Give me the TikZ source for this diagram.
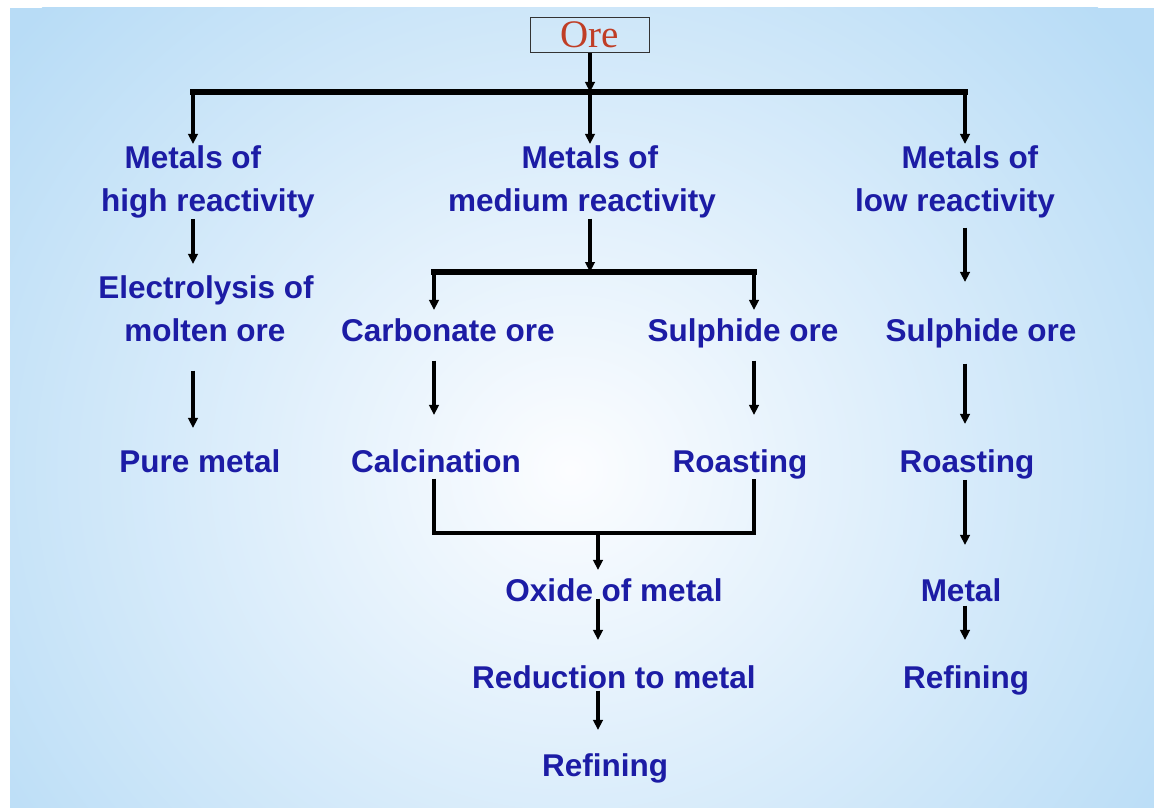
\documentclass[tikz,border=0pt]{standalone}
\usepackage{fontspec}
\setmainfont{Liberation Sans}
\newfontfamily\oreserif{Liberation Serif}
\usetikzlibrary{arrows.meta,calc}
\definecolor{txtblue}{RGB}{28,28,165}
\definecolor{orered}{RGB}{192,62,38}
\definecolor{bgblue}{RGB}{184,220,246}
\definecolor{bgwhite}{RGB}{252,253,255}
\begin{document}
\begin{tikzpicture}[x=1pt,y=-1pt,
  lbl/.style={anchor=base, inner sep=0pt, text=txtblue, font=\fontsize{31.5}{36}\selectfont\bfseries},
  arr/.style={line width=3.2pt, -{Triangle[length=10pt,width=9.5pt]}},
  bus/.style={line width=5.2pt, line cap=rect},
  bracket/.style={line width=4.2pt, line join=miter},
]
\useasboundingbox (0,0) rectangle (1154,808);
\fill[white] (0,0) rectangle (1154,808);
\begin{scope}
  \clip (10,8) rectangle (1154,808);
  \fill[bgblue] (10,8) rectangle (1154,808);
  \shade[inner color=bgwhite, outer color=bgblue] (570,470) ellipse [x radius=720, y radius=680];
\end{scope}

% column x positions
\coordinate (cL) at (193,0);
\coordinate (cM) at (590,0);
\coordinate (cR) at (965,0);
\coordinate (cC) at (434,0);
\coordinate (cS) at (754,0);
\coordinate (cO) at (598,0);
% bus points
\coordinate (bL) at (193,92);
\coordinate (bM) at (590,92);
\coordinate (bR) at (965,92);
\coordinate (sC) at (434,272);
\coordinate (sM) at (590,272);
\coordinate (sS) at (754,272);
\coordinate (jM) at (598,533);

\node[draw=black!80, line width=1.4pt, minimum width=119pt, minimum height=35pt, inner sep=0pt,
      text=orered, font=\oreserif\fontsize{39}{40}\selectfont] (ore) at (590,35) {Ore};

\node[lbl] (mh1) at (193,168) {Metals of};
\node[lbl] (mh2) at (208,211) {high reactivity};
\node[lbl] (el1) at (206,298) {Electrolysis of};
\node[lbl] (el2) at (205,341) {molten ore};
\node[lbl] (pm)  at (200,472) {Pure metal};

\node[lbl] (mm1) at (590,168) {Metals of};
\node[lbl] (mm2) at (582,211) {medium reactivity};
\node[lbl] (co)  at (448,341) {Carbonate ore};
\node[lbl] (so)  at (743,341) {Sulphide ore};
\node[lbl] (ca)  at (436,472) {Calcination};
\node[lbl] (ro)  at (740,472) {Roasting};
\node[lbl] (ox)  at (614,601) {Oxide of metal};
\node[lbl] (re)  at (614,688) {Reduction to metal};
\node[lbl] (rf)  at (605,776) {Refining};

\node[lbl] (ml1) at (970,168) {Metals of};
\node[lbl] (ml2) at (955,211) {low reactivity};
\node[lbl] (so2) at (981,341) {Sulphide ore};
\node[lbl] (ro2) at (967,472) {Roasting};
\node[lbl] (me)  at (961,601) {Metal};
\node[lbl] (rf2) at (966,688) {Refining};

% top distribution
\draw[arr] (ore.south) -- (bM);
\draw[bus] (bL) -- (bR);
\draw[arr, shorten >=1pt] (bL) -- (cL |- mh1.north);
\draw[arr, shorten >=1pt] (bM) -- (cM |- mm1.north);
\draw[arr, shorten >=1pt] (bR) -- (cR |- ml1.north);

% left column
\draw[arr, shorten <=1pt, shorten >=11pt] (cL |- mh2.south) -- (cL |- el1.north);
\draw[arr, shorten <=29pt, shorten >=21pt] (cL |- el2.south) -- (cL |- pm.north);

% middle column
\draw[arr, shorten <=1pt] (cM |- mm2.south) -- (sM);
\draw[bus] (sC) -- (sS);
\draw[arr, shorten >=8pt] (sC) -- (cC |- co.north);
\draw[arr, shorten >=8pt] (sS) -- (cS |- so.north);
\draw[arr, shorten <=19pt, shorten >=34pt] (cC |- co.south) -- (cC |- ca.north);
\draw[arr, shorten <=13pt, shorten >=34pt] (cS |- so.south) -- (cS |- ro.north);
\draw[bracket] ($(cC |- ca.south)+(0,6)$) -- (cC |- jM) -- (cS |- jM) -- (cS |- ro.south);
\draw[arr, shorten >=8pt] (jM) -- (cO |- ox.north);
\draw[arr, shorten <=-3pt, shorten >=25pt] (cO |- ox.south) -- (cO |- re.north);
\draw[arr, shorten <=2pt, shorten >=23pt] (cO |- re.south) -- (cO |- rf.north);

% right column
\draw[arr, shorten <=10pt, shorten >=36pt] (cR |- ml2.south) -- (cR |- so2.north);
\draw[arr, shorten <=16pt, shorten >=25pt] (cR |- so2.south) -- (cR |- ro2.north);
\draw[arr, shorten <=1pt, shorten >=33pt] (cR |- ro2.south) -- (cR |- me.north);
\draw[arr, shorten <=4pt, shorten >=25pt] (cR |- me.south) -- (cR |- rf2.north);
\end{tikzpicture}
\end{document}
